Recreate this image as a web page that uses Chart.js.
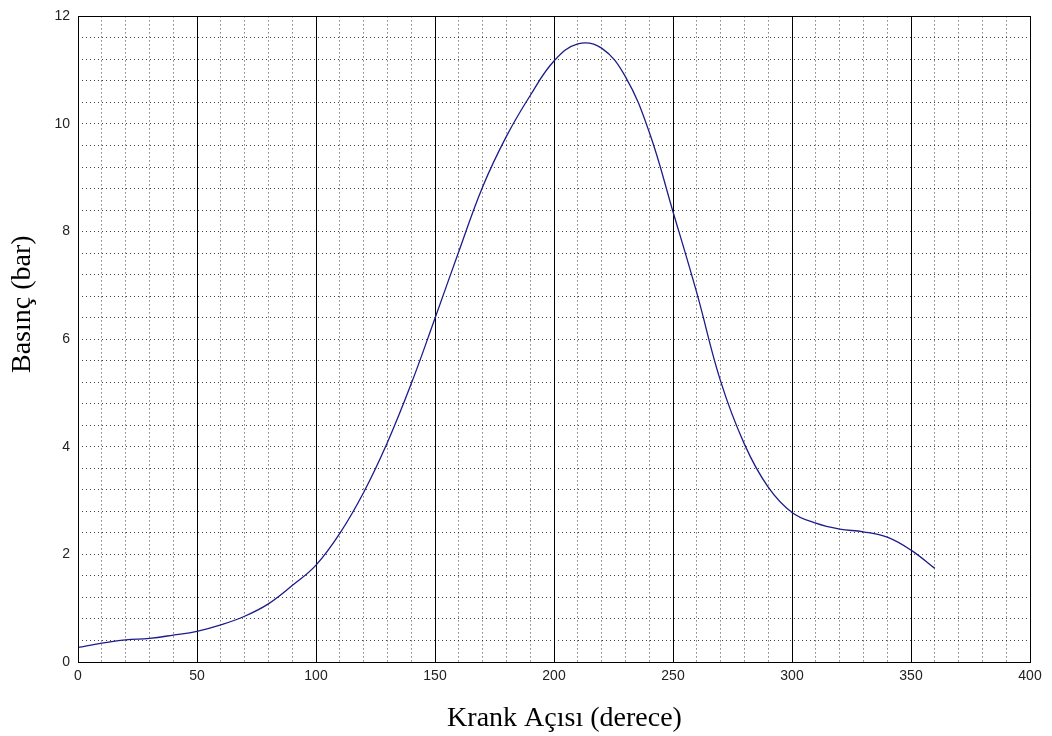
<!DOCTYPE html>
<html>
<head>
<meta charset="utf-8">
<script src="https://cdn.jsdelivr.net/npm/chart.js@4"></script>
<style>
  html, body { margin: 0; padding: 0; background: #fff; }
  #wrap { width: 1052px; height: 736px; }
</style>
</head>
<body>
<div id="wrap"><canvas id="chartBasinc"></canvas></div>
<script>
/*-------------------
    BASINC - KRANK ACISI
--------------------*/

const krankAcisi = [0, 10, 20, 30, 40, 50, 60, 70, 80, 90, 100, 110, 120, 130, 140, 150, 160, 170, 180,
                    190, 200, 210, 220, 230, 240, 250, 260, 270, 280, 290, 300, 310, 320, 330, 340, 350, 360];
const basinc = [0.27, 0.35, 0.41, 0.44, 0.50, 0.57, 0.69, 0.85, 1.08, 1.42, 1.80, 2.39, 3.15, 4.08, 5.17, 6.39, 7.63, 8.83, 9.77,
                10.53, 11.17, 11.49, 11.41, 10.88, 9.85, 8.37, 6.86, 5.22, 4.05, 3.25, 2.78, 2.58, 2.47, 2.42, 2.32, 2.08, 1.74];

const tickFont = {family: '"Liberation Sans", Arial, sans-serif', size: 14};
const titleFont = {family: '"Liberation Serif", "Times New Roman", serif', size: 28};
const dotted = [1, 3];

// cerceve
const frame = {
    id: 'frame',
    afterDraw(chart) {
        const a = chart.chartArea, c = chart.ctx;
        c.save();
        c.strokeStyle = '#000';
        c.lineWidth = 1;
        c.strokeRect(Math.round(a.left) + 0.5, Math.round(a.top) + 0.5, Math.round(a.right - a.left), Math.round(a.bottom - a.top));
        c.restore();
    }
};

const canvas = document.getElementById('chartBasinc');

new Chart(canvas, {
    type: 'line',
    data: {
        datasets: [{
            data: krankAcisi.map((x, i) => ({x: x, y: basinc[i]})),
            borderColor: '#1c1c8a',
            borderWidth: 1.3,
            pointRadius: 0,
            tension: 0.4,
            fill: false
        }]
    },
    options: {
        responsive: true,
        maintainAspectRatio: false,
        animation: false,
        layout: {padding: {top: 14, right: 22, left: 0, bottom: 0}},
        plugins: {legend: {display: false}, tooltip: {enabled: false}},
        scales: {
            x: {
                type: 'linear', min: 0, max: 400,
                ticks: {stepSize: 50, font: tickFont, color: '#222', padding: 6, maxRotation: 0},
                grid: {color: '#000', lineWidth: 1, drawTicks: false},
                border: {color: '#000'},
                title: {display: true, text: '\u00a0\u00a0\u00a0Krank Açısı (derece)', font: titleFont, color: '#000', padding: {top: 4, bottom: 1}},
                afterFit: s => { s.height = 74; }
            },
            xMinor: {
                type: 'linear', position: 'bottom', min: 0, max: 400,
                ticks: {display: false, stepSize: 10},
                grid: {color: 'rgba(0,0,0,0.75)', lineWidth: 1, drawTicks: false},
                border: {display: false, dash: dotted},
                afterFit: s => { s.height = 0; }
            },
            y: {
                min: 0, max: 12,
                ticks: {stepSize: 2, font: tickFont, color: '#222', padding: 8},
                grid: {display: false, drawTicks: false},
                border: {color: '#000'},
                title: {display: true, text: '\u00a0'.repeat(10) + 'Basınç (bar)', font: titleFont, color: '#000', padding: {top: 6, bottom: 4}},
                afterFit: s => { s.width = 78; }
            },
            yMinor: {
                position: 'left', min: 0, max: 12,
                ticks: {display: false, stepSize: 0.4},
                grid: {color: 'rgba(0,0,0,0.75)', lineWidth: 1, drawTicks: false},
                border: {display: false, dash: dotted},
                afterFit: s => { s.width = 0; }
            }
        }
    },
    plugins: [frame]
});
</script>
</body>
</html>
